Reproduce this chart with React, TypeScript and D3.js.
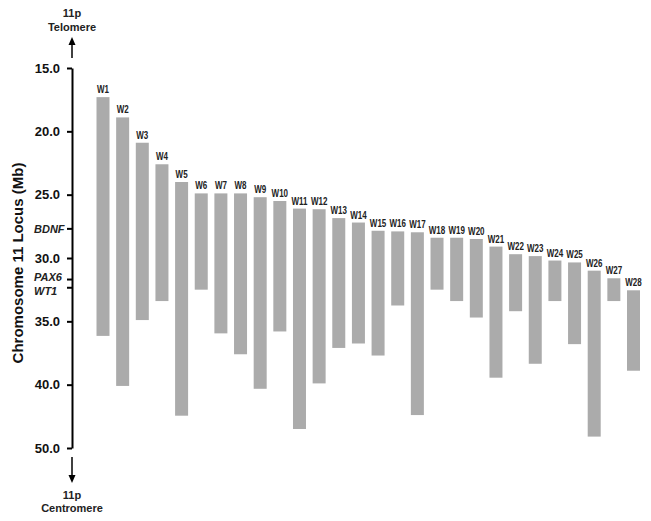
import React, { useRef, useEffect } from "react";
import * as d3 from "d3";

// deletion intervals per patient (Mb)
const patients = ["W1","W2","W3","W4","W5","W6","W7","W8","W9","W10","W11","W12","W13","W14","W15","W16","W17","W18","W19","W20","W21","W22","W23","W24","W25","W26","W27","W28"];
const starts = [17.3,18.9,20.9,22.6,24.0,24.9,24.9,24.9,25.2,25.5,26.1,26.15,26.85,27.2,27.85,27.9,27.97,28.4,28.4,28.5,29.1,29.7,29.85,30.2,30.35,31.0,31.6,32.55];
const ends = [36.15,40.2,34.9,33.4,44.9,32.5,35.95,37.6,40.65,35.8,47.0,39.9,37.1,36.75,37.7,33.75,44.8,32.5,33.4,34.7,39.45,34.2,38.35,33.4,36.8,48.2,33.4,38.9];

const tickValues = [15, 20, 25, 30, 35, 40, 50];
const genes = ["BDNF", "PAX6", "WT1"];
const genePos = [27.7, 31.7, 32.35];

const W = 651;
const H = 521;

const App = () => {
  const svgRef = useRef(null);

  useEffect(() => {
    const svg = d3.select(svgRef.current);
    svg.selectAll("*").remove();

    const axisX = 72;
    const top = 68;
    const bottom = 448;
    const font = "'Liberation Sans', Arial, sans-serif";

    // axis labels are evenly spaced, so the scale is piecewise
    const y = d3
      .scaleLinear()
      .domain(tickValues)
      .range(tickValues.map((_, i) => top + (i * (bottom - top)) / (tickValues.length - 1)));

    const x = d3.scalePoint().domain(patients).range([103, 633.5]);
    const barW = 13;

    // bars
    const rows = patients.map((p, i) => ({ p, s: starts[i], e: ends[i] }));
    svg
      .append("g")
      .selectAll("rect")
      .data(rows)
      .enter()
      .append("rect")
      .attr("x", (d) => x(d.p) - barW / 2)
      .attr("width", barW)
      .attr("y", (d) => y(d.s))
      .attr("height", (d) => y(d.e) - y(d.s))
      .attr("fill", "#ababab");

    // labels are condensed in the original
    svg
      .append("g")
      .selectAll("text")
      .data(rows)
      .enter()
      .append("text")
      .attr("transform", (d) => `translate(${x(d.p)},${y(d.s) - 4}) scale(0.8,1)`)
      .attr("text-anchor", "middle")
      .attr("font-family", font)
      .attr("font-weight", "bold")
      .attr("font-size", 10)
      .attr("fill", "#222")
      .text((d) => d.p);

    // y axis
    const axis = d3
      .axisLeft(y)
      .tickValues(tickValues)
      .tickFormat(d3.format(".1f"))
      .tickSize(5)
      .tickSizeOuter(0);
    const gAxis = svg.append("g").attr("transform", `translate(${axisX},0)`).call(axis);
    gAxis.select(".domain").attr("stroke", "#000").attr("stroke-width", 2);
    gAxis.selectAll(".tick line").attr("stroke", "#000").attr("stroke-width", 2);
    gAxis
      .selectAll(".tick text")
      .attr("x", -12)
      .attr("font-family", font)
      .attr("font-weight", "bold")
      .attr("font-size", 13)
      .attr("fill", "#111");

    // gene markers
    const gGenes = svg.append("g");
    genes.forEach((g, i) => {
      const yy = y(genePos[i]);
      gGenes
        .append("line")
        .attr("x1", axisX - 5)
        .attr("x2", axisX)
        .attr("y1", yy)
        .attr("y2", yy)
        .attr("stroke", "#000")
        .attr("stroke-width", 2);
      const off = g === "PAX6" ? -2 : g === "WT1" ? 3 : 0;
      gGenes
        .append("text")
        .attr("x", 34)
        .attr("y", yy + off)
        .attr("dy", "0.35em")
        .attr("font-family", font)
        .attr("font-weight", "bold")
        .attr("font-style", "italic")
        .attr("font-size", 11)
        .attr("fill", "#222")
        .text(g);
    });

    // axis title
    svg
      .append("text")
      .attr("transform", `translate(23,${(top + bottom) / 2 + 5}) rotate(-90)`)
      .attr("text-anchor", "middle")
      .attr("font-family", font)
      .attr("font-weight", "bold")
      .attr("font-size", 15)
      .attr("fill", "#111")
      .text("Chromosome 11 Locus (Mb)");

    // arrows + end labels
    const arrows = [
      { from: 58, to: 37 },
      { from: 457, to: 483 },
    ];
    const gArrows = svg.append("g");
    arrows.forEach((a) => {
      const dir = a.to < a.from ? 1 : -1;
      gArrows
        .append("line")
        .attr("x1", axisX)
        .attr("x2", axisX)
        .attr("y1", a.from)
        .attr("y2", a.to + dir * 6)
        .attr("stroke", "#000")
        .attr("stroke-width", 1.5);
      gArrows
        .append("path")
        .attr("d", `M${axisX},${a.to}L${axisX - 3.5},${a.to + dir * 8}L${axisX + 3.5},${a.to + dir * 8}Z`)
        .attr("fill", "#000");
    });

    const endLabels = [
      { t: "11p", y: 13 },
      { t: "Telomere", y: 27 },
      { t: "11p", y: 495 },
      { t: "Centromere", y: 508 },
    ];
    svg
      .append("g")
      .selectAll("text")
      .data(endLabels)
      .enter()
      .append("text")
      .attr("x", axisX)
      .attr("y", (d) => d.y)
      .attr("dy", "0.35em")
      .attr("text-anchor", "middle")
      .attr("font-family", font)
      .attr("font-weight", "bold")
      .attr("font-size", 11)
      .attr("fill", "#222")
      .text((d) => d.t);
  }, []);

  return (
    <svg
      ref={svgRef}
      width={W}
      height={H}
      style={{ position: "absolute", left: 0, top: 0, background: "#fff" }}
    ></svg>
  );
};

export default App;
